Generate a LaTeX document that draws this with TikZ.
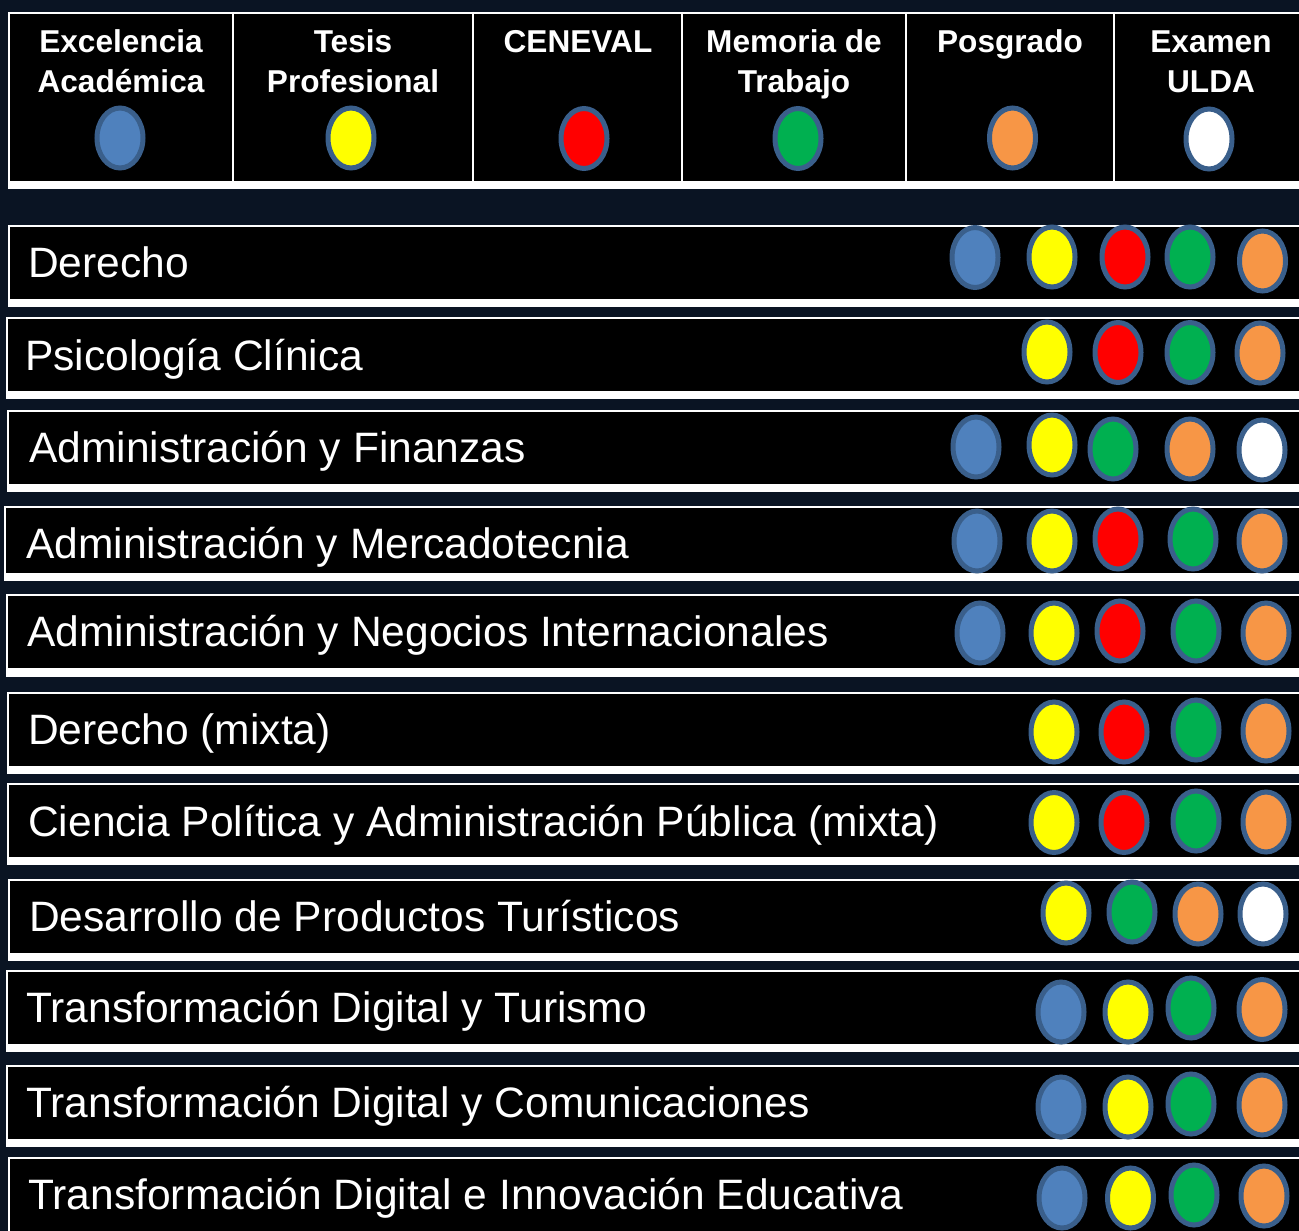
\documentclass[tikz,border=0pt]{standalone}
\usepackage{fontspec}
\setmainfont{Liberation Sans}
\usetikzlibrary{shapes.geometric}
\definecolor{bgnavy}{HTML}{0A1423}
\definecolor{dotline}{HTML}{3A5F8B}
\definecolor{cblue}{HTML}{4F81BD}
\definecolor{cyellow}{HTML}{FFFF00}
\definecolor{cred}{HTML}{FF0000}
\definecolor{cgreen}{HTML}{00B050}
\definecolor{corange}{HTML}{F79646}
\definecolor{cwhite}{HTML}{FFFFFF}
\tikzset{
  legdot/.style={ellipse, draw=dotline, line width=3.75pt, fill=#1,
    minimum width=34.5pt, minimum height=45pt, inner sep=0pt, outer sep=0pt},
  rowtext/.style={anchor=base west, text=white, inner sep=0pt,
    font=\fontsize{31.9}{38}\selectfont},
  headtext/.style={anchor=base, text=white, inner sep=0pt, align=center,
    font=\bfseries\fontsize{23.7}{30}\selectfont},
  sepline/.style={draw=white, line width=1.5pt},
}
\begin{document}
\begin{tikzpicture}[x=0.75pt,y=-0.75pt]
\useasboundingbox (0,0) rectangle (1299,1231);
\fill[bgnavy] (0,0) rectangle (1299,1231);
% header table
\fill[white] (8,12) rectangle (1310,189);
\fill[black] (10,14) rectangle (1310,181);
\foreach \sx in {233,473,682,906,1114}
  \draw[sepline] (\sx,12) -- (\sx,189);
% base anchor of a two-line node is the baseline of its last line
\node[headtext] (h1) at (121,93) {Excelencia\\Académica};
\node[headtext] (h2) at (353,93) {Tesis\\Profesional};
\node[headtext] (h3) at (578,53) {CENEVAL};
\node[headtext] (h4) at (794,93) {Memoria de\\Trabajo};
\node[headtext] (h5) at (1010,53) {Posgrado};
\node[headtext] (h6) at (1211,93) {Examen\\ULDA};
\node[legdot=cblue] (hc1) at (120,138) {};
\node[legdot=cyellow] (hc2) at (351,138) {};
\node[legdot=cred] (hc3) at (584,138.5) {};
\node[legdot=cgreen] (hc4) at (798,138.5) {};
\node[legdot=corange] (hc5) at (1012.5,138) {};
\node[legdot=cwhite] (hc6) at (1209,139) {};
% rows
\foreach \i/\xo/\yt/\yb/\ye/\tx/\ty/\txt in {
  1/8/225/299/307/28/277/Derecho,
  2/6/317/391/399/25/370/Psicología Clínica,
  3/7/410/484/492/29/462/Administración y Finanzas,
  4/4/506/573/581/26/558/Administración y Mercadotecnia,
  5/6/594/668/677/27/646/Administración y Negocios Internacionales,
  6/7/692/766/774/28/744/Derecho (mixta),
  7/7/783/857/865/28/836/Ciencia Política y Administración Pública (mixta),
  8/8/879/953/961/29/931/Desarrollo de Productos Turísticos,
  9/6/970/1044/1052/26/1022/Transformación Digital y Turismo,
  10/6/1065/1139/1147/26/1117/Transformación Digital y Comunicaciones,
  11/8/1157/1240/1248/28/1209/Transformación Digital e Innovación Educativa}{
  \fill[white] (\xo,\yt) rectangle (1310,\ye);
  \fill[black] (\xo+2,\yt+2) rectangle (1310,\yb);
  \node[rowtext] (t\i) at (\tx,\ty) {\txt};
}
% row dots
\foreach \r/\k/\col/\cx/\cy in {
  1/1/cblue/975/257.5, 1/2/cyellow/1052/257, 1/3/cred/1125/257, 1/4/cgreen/1190/257, 1/5/corange/1262.5/261,
  2/1/cyellow/1047/352, 2/2/cred/1118/352.5, 2/3/cgreen/1190/352.5, 2/4/corange/1260/353,
  3/1/cblue/976/447, 3/2/cyellow/1052/445, 3/3/cgreen/1113/449, 3/4/corange/1190/449, 3/5/cwhite/1262/450,
  4/1/cblue/977/541, 4/2/cyellow/1052/541, 4/3/cred/1118/539, 4/4/cgreen/1193/539, 4/5/corange/1262/541,
  5/1/cblue/980/633, 5/2/cyellow/1054/633, 5/3/cred/1120/631, 5/4/cgreen/1196/631, 5/5/corange/1266/633,
  6/1/cyellow/1054/732, 6/2/cred/1124/732, 6/3/cgreen/1196/730, 6/4/corange/1266/731,
  7/1/cyellow/1054/822.5, 7/2/cred/1124/822.5, 7/3/cgreen/1196/821, 7/4/corange/1266/822,
  8/1/cyellow/1066/913, 8/2/cgreen/1132/912, 8/3/corange/1198/914, 8/4/cwhite/1263/914,
  9/1/cblue/1061/1012, 9/2/cyellow/1128/1012, 9/3/cgreen/1191/1008, 9/4/corange/1262/1009.5,
  10/1/cblue/1061/1107, 10/2/cyellow/1128/1107, 10/3/cgreen/1191/1104, 10/4/corange/1262/1105,
  11/1/cblue/1062/1198, 11/2/cyellow/1130.5/1198, 11/3/cgreen/1194/1195, 11/4/corange/1264/1196}{
  \node[legdot=\col] (r\r c\k) at (\cx,\cy) {};
}
\end{tikzpicture}
\end{document}
